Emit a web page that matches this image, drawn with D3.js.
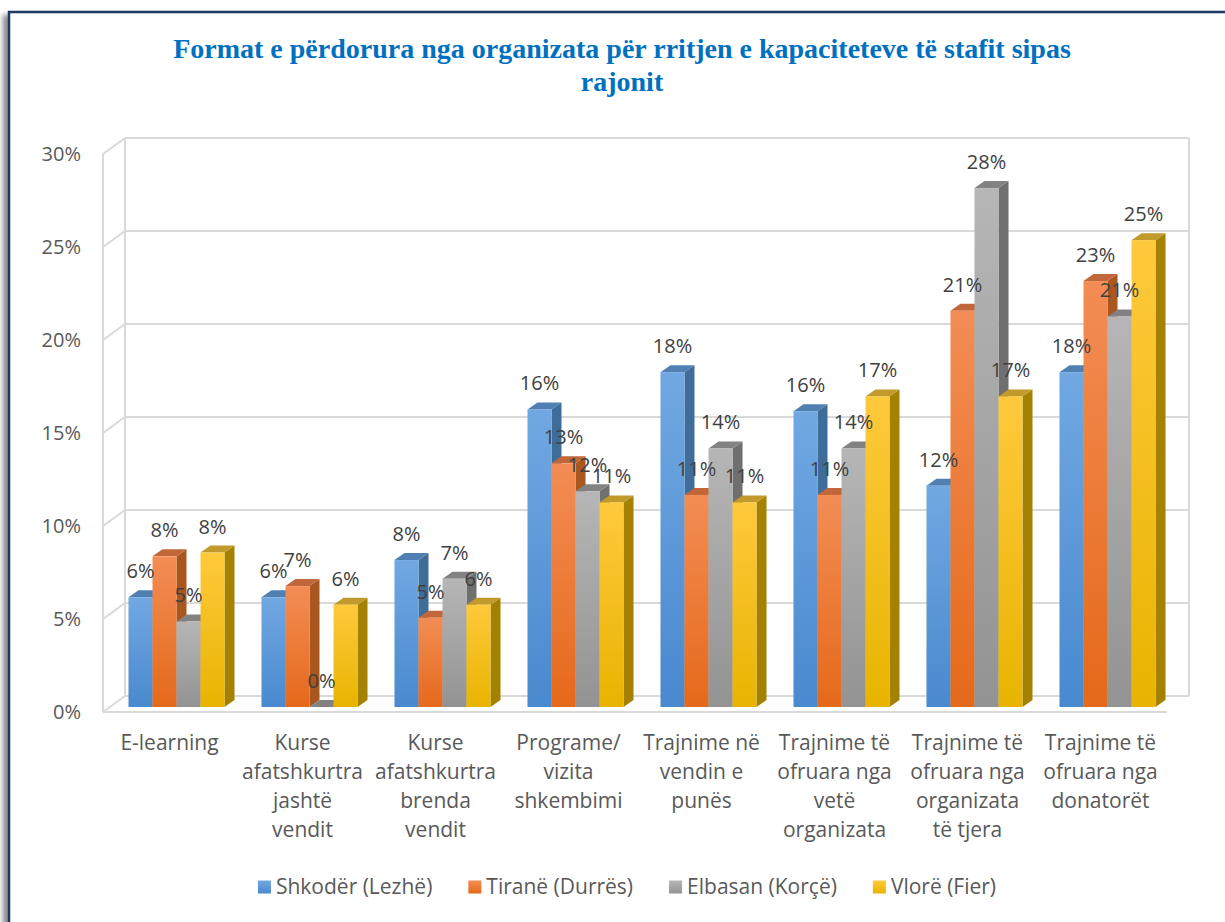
<!doctype html>
<html lang="sq">
<head>
  <meta charset="utf-8">
  <title>Format e përdorura</title>
  <style>
  body { margin: 0; background: #fff; }
  svg { display: block; }
  .tick-label { font-family: "Open Sans", sans-serif; font-size: 20px; fill: #595959; }
  .cat-label { font-family: "Open Sans", sans-serif; font-size: 21px; fill: #595959; }
  .data-label { font-family: "Open Sans", sans-serif; font-size: 20px; fill: #404040; }
  .legend-label { font-family: "Open Sans", sans-serif; font-size: 21px; fill: #595959; }
  .title { font-family: "Liberation Serif", "Times New Roman", serif; font-weight: bold; font-size: 28px; fill: #0070C0; }
  .wall { stroke: #d9d9d9; stroke-width: 2; fill: none; }
  </style>
</head>
<body>
  <div id="chart"></div>
  <script src="https://cdn.jsdelivr.net/npm/d3@7"></script>
  <script>
var categories = [
  "E-learning",
  "Kurse\nafatshkurtra\njashtë\nvendit",
  "Kurse\nafatshkurtra\nbrenda\nvendit",
  "Programe/\nvizita\nshkembimi",
  "Trajnime në\nvendin e\npunës",
  "Trajnime të\nofruara nga\nvetë\norganizata",
  "Trajnime të\nofruara nga\norganizata\ntë tjera",
  "Trajnime të\nofruara nga\ndonatorët"
];
var seriesNames = ["Shkodër (Lezhë)", "Tiranë (Durrës)", "Elbasan (Korçë)", "Vlorë (Fier)"];
var shkoder = [0.059, 0.059, 0.079, 0.160, 0.180, 0.159, 0.119, 0.180];
var tirane  = [0.081, 0.065, 0.048, 0.131, 0.114, 0.114, 0.213, 0.229];
var elbasan = [0.046, 0.000, 0.069, 0.116, 0.139, 0.139, 0.279, 0.210];
var vlore   = [0.083, 0.055, 0.055, 0.110, 0.110, 0.167, 0.167, 0.251];
var yTicks = [0, 0.05, 0.10, 0.15, 0.20, 0.25, 0.30];
var titleLines = ["Format e përdorura nga organizata për rritjen e kapaciteteve të stafit sipas", "rajonit"];

// colours per series: front top, front bottom, side, top face
var colors = [
  {hi: "#71a8e2", lo: "#4989cf", side: "#3f6d99", top: "#507fb2"},
  {hi: "#f38d55", lo: "#e5691a", side: "#a9561f", top: "#c2673a"},
  {hi: "#b6b6b6", lo: "#939393", side: "#6f6f6f", top: "#828282"},
  {hi: "#ffc93c", lo: "#e8b400", side: "#a48100", top: "#c19a2b"}
];

(function() {
  var width = 1225, height = 922;
  var values = [shkoder, tirane, elbasan, vlore];

  var svg = d3.select("#chart").append("svg")
      .attr("width", width)
      .attr("height", height);

  var defs = svg.append("defs");
  var shadow = defs.append("filter").attr("id", "shadow")
      .attr("x", "-5%").attr("y", "-5%").attr("width", "110%").attr("height", "110%");
  shadow.append("feDropShadow").attr("dx", -5).attr("dy", 4)
      .attr("stdDeviation", 2.5).attr("flood-color", "#000").attr("flood-opacity", 0.45);

  colors.forEach(function(c, i) {
    var g = defs.append("linearGradient").attr("id", "grad" + i)
        .attr("x1", 0).attr("y1", 0).attr("x2", 0).attr("y2", 1);
    g.append("stop").attr("offset", "0%").attr("stop-color", c.hi);
    g.append("stop").attr("offset", "100%").attr("stop-color", c.lo);
  });

  // frame
  svg.append("rect")
      .attr("x", 9).attr("y", 12).attr("width", 1300).attr("height", 1000)
      .attr("fill", "#fff").attr("stroke", "#1f3864").attr("stroke-width", 2.5)
      .attr("filter", "url(#shadow)");

  // title
  svg.append("text").attr("class", "title")
      .attr("text-anchor", "middle")
      .selectAll("tspan").data(titleLines).enter().append("tspan")
      .attr("x", 622).attr("y", function(d, i) { return 58 + i * 33; })
      .text(function(d) { return d; });

  // 3D geometry
  var x0 = 103, x1 = 1167;
  var depth = [22, -16];
  var barOff = [7, -5];     // front face of the bars inside the box
  var barDepth = [10, -7];  // bar thickness

  var x = d3.scaleBand().domain(categories).range([x0, x1]).paddingInner(0.278).paddingOuter(0.139);
  var xs = d3.scaleBand().domain(d3.range(seriesNames.length)).range([0, x.bandwidth()]);
  var y = d3.scaleLinear().domain([0, 0.30]).range([712, 154]);

  var walls = svg.append("g").attr("class", "wall");
  // back wall gridlines
  walls.selectAll("line.back").data(yTicks).enter().append("line")
      .attr("x1", x0 + depth[0]).attr("x2", x1 + depth[0])
      .attr("y1", function(d) { return y(d) + depth[1]; })
      .attr("y2", function(d) { return y(d) + depth[1]; });
  // side wall diagonals
  walls.selectAll("line.side").data(yTicks).enter().append("line")
      .attr("x1", x0).attr("x2", x0 + depth[0])
      .attr("y1", function(d) { return y(d); })
      .attr("y2", function(d) { return y(d) + depth[1]; });
  // verticals
  walls.append("line").attr("x1", x0).attr("x2", x0).attr("y1", y(0.30)).attr("y2", y(0));
  walls.append("line").attr("x1", x0 + depth[0]).attr("x2", x0 + depth[0])
      .attr("y1", y(0.30) + depth[1]).attr("y2", y(0) + depth[1]);
  walls.append("line").attr("x1", x1 + depth[0]).attr("x2", x1 + depth[0])
      .attr("y1", y(0.30) + depth[1]).attr("y2", y(0) + depth[1]);
  // floor front edge
  walls.append("line").attr("x1", x0).attr("x2", x1).attr("y1", y(0)).attr("y2", y(0));

  // y tick labels
  svg.append("g").selectAll("text").data(yTicks).enter().append("text")
      .attr("class", "tick-label")
      .attr("x", 81).attr("y", function(d) { return y(d); })
      .attr("dy", "0.35em").attr("text-anchor", "end")
      .text(d3.format(".0%"));

  // bars
  var bars = [];
  categories.forEach(function(c, ci) {
    values.forEach(function(s, si) {
      bars.push({cat: c, si: si, v: s[ci]});
    });
  });

  var barG = svg.append("g");
  bars.forEach(function(b) {
    var bx = x(b.cat) + xs(b.si) + barOff[0];
    var w = xs.bandwidth();
    var yb = y(0) + barOff[1];
    var yt = y(b.v) + barOff[1];
    var dx = barDepth[0], dy = barDepth[1];
    var c = colors[b.si];
    var g = barG.append("g");
    g.append("polygon")
        .attr("points", [[bx + w, yt], [bx + w + dx, yt + dy], [bx + w + dx, yb + dy], [bx + w, yb]].join(" "))
        .attr("fill", c.side);
    g.append("polygon")
        .attr("points", [[bx, yt], [bx + w, yt], [bx + w + dx, yt + dy], [bx + dx, yt + dy]].join(" "))
        .attr("fill", c.top);
    g.append("rect")
        .attr("x", bx).attr("y", yt).attr("width", w).attr("height", yb - yt)
        .attr("fill", "url(#grad" + b.si + ")");
  });

  // data labels
  svg.append("g").selectAll("text").data(bars).enter().append("text")
      .attr("class", "data-label")
      .attr("text-anchor", "middle")
      .attr("x", function(d) { return x(d.cat) + xs(d.si) + xs.bandwidth() / 2 + barOff[0]; })
      .attr("y", function(d) { return y(d.v) + barOff[1] - 19; })
      .text(function(d) { return d3.format(".0%")(d.v); });

  // category labels
  var catG = svg.append("g");
  categories.forEach(function(c) {
    var t = catG.append("text").attr("class", "cat-label").attr("text-anchor", "middle");
    c.split("\n").forEach(function(line, li) {
      t.append("tspan").attr("x", x(c) + x.bandwidth() / 2)
          .attr("y", 750 + li * 29).text(line);
    });
  });

  // legend
  var legend = svg.append("g");
  var sw = 13, gapText = 5, gapItem = 36, cx = 627, ly = 887;
  var items = seriesNames.map(function(n, i) {
    var g = legend.append("g");
    g.append("rect").attr("width", sw).attr("height", sw).attr("y", -sw / 2)
        .attr("fill", "url(#grad" + i + ")");
    var t = g.append("text").attr("class", "legend-label")
        .attr("x", sw + gapText).attr("dy", "0.35em").text(n);
    return {g: g, w: sw + gapText + t.node().getComputedTextLength()};
  });
  var total = d3.sum(items, function(d) { return d.w; }) + gapItem * (items.length - 1);
  var lx = cx - total / 2;
  items.forEach(function(it) {
    it.g.attr("transform", "translate(" + lx + "," + ly + ")");
    lx += it.w + gapItem;
  });
})();
  </script>
</body>
</html>
